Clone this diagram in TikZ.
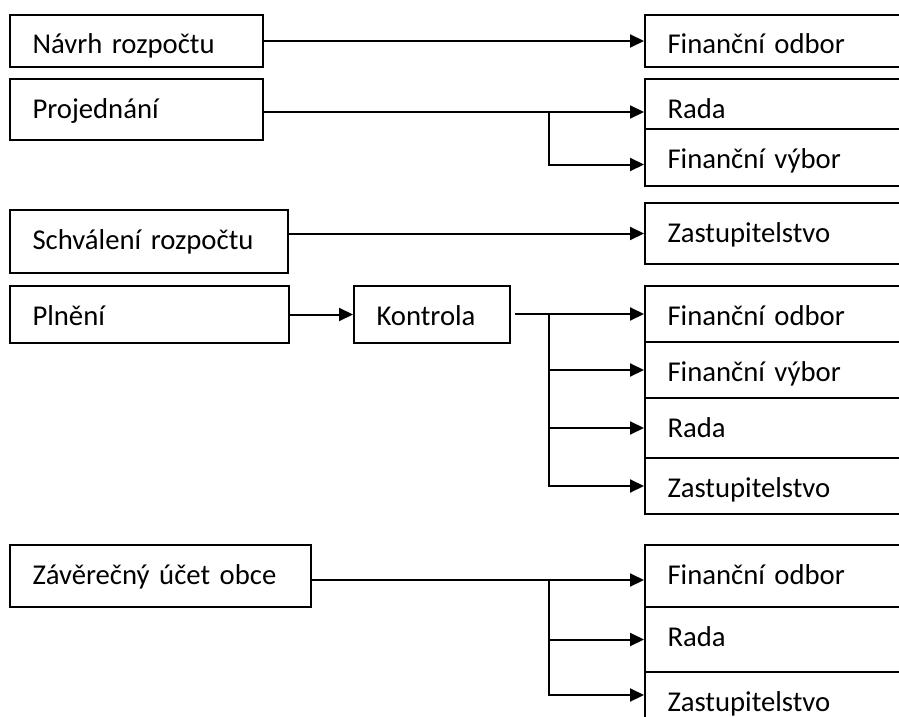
\documentclass[tikz,border=0pt]{standalone}
\usepackage{fontspec}
\setmainfont{Carlito}
\usetikzlibrary{arrows.meta}
\tikzset{
  box/.style={draw, line width=2pt, anchor=north west, inner xsep=22.5pt, inner ysep=0pt,
    text height=39pt, align=left, font=\fontsize{28.7}{34}\selectfont},
  arr/.style={line width=2pt, -{Triangle[length=14pt,width=13pt]}}
}
\begin{document}
\begin{tikzpicture}[x=1pt,y=-1pt]
  \useasboundingbox (0,0) rectangle (899,717);

  % stages
  \node[box,text width=208pt,text depth=13pt] (navrh) at (9,14) {Návrh rozpočtu};
  \node[box,text width=208pt,text depth=22pt] (proj) at (9,78) {Projednání};
  \node[box,text width=233pt,text depth=24pt] (schv) at (9,209) {Schválení rozpočtu};
  \node[box,text width=234pt,text depth=18pt] (pln) at (9,285) {Plnění};
  \node[box,text width=111pt,text depth=18pt] (kon) at (353,285) {Kontrola};
  \node[box,text width=256pt,text depth=23pt] (zav) at (9,544) {Závěrečný účet obce};

  % bodies
  \node[box,text width=300pt,text depth=13pt] (fo1) at (644,14) {Finanční odbor};
  \node[box,text width=300pt,text depth=11pt] (rada1) at (644,78) {Rada};
  \node[box,text width=300pt,text depth=18pt] (fv1) at (644,128) {Finanční výbor};
  \node[box,text width=300pt,text depth=22pt] (zast1) at (644,202) {Zastupitelstvo};
  \node[box,text width=300pt,text depth=17pt] (fo2) at (644,285) {Finanční odbor};
  \node[box,text width=300pt,text depth=17pt] (fv2) at (644,341) {Finanční výbor};
  \node[box,text width=300pt,text depth=21pt] (rada2) at (644,397) {Rada};
  \node[box,text width=300pt,text depth=17pt] (zast2) at (644,457) {Zastupitelstvo};
  \node[box,text width=300pt,text depth=23pt] (fo3) at (644,544) {Finanční odbor};
  \node[box,text width=300pt,text depth=26pt] (rada3) at (644,606) {Rada};
  \node[box,text width=300pt,text depth=21pt] (zast3) at (644,671) {Zastupitelstvo};

  \draw[arr] (navrh.east |- fo1.west) -- (fo1.west);

  \coordinate (r1) at ([yshift=-8pt]rada1.west);
  \coordinate (v1) at ([yshift=-7pt]fv1.west);
  \draw[arr] (proj.east |- r1) -- (r1);
  \draw[arr] ([xshift=-95pt]r1) |- (v1);

  \draw[arr] (schv.east |- zast1.west) -- (zast1.west);

  \draw[arr] (pln) -- (kon);
  \draw[arr] ([xshift=4pt]kon.east |- fo2.west) -- (fo2.west);
  \foreach \t in {fv2,rada2,zast2}{
    \draw[arr] ([xshift=-95pt]fo2.west) |- (\t.west);
  }

  \coordinate (f3) at ([yshift=-4pt]fo3.west);
  \coordinate (z3) at ([yshift=7pt]zast3.west);
  \draw[arr] (zav.east |- f3) -- (f3);
  \draw[arr] ([xshift=-95pt]f3) |- (rada3.west);
  \draw[arr] ([xshift=-95pt]f3) |- (z3);
\end{tikzpicture}
\end{document}
